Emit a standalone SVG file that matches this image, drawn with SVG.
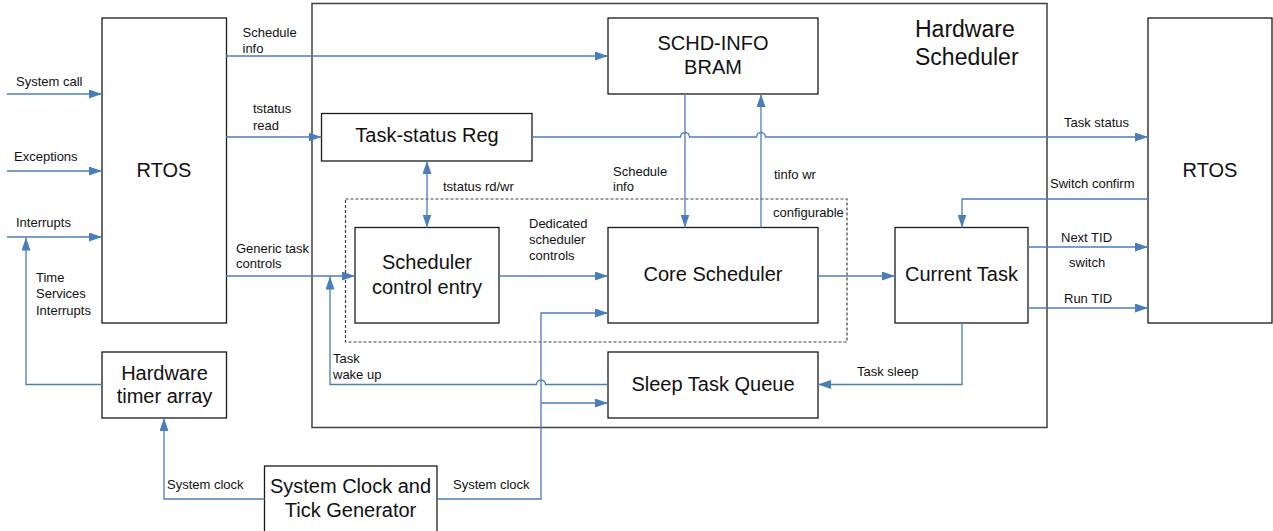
<svg xmlns="http://www.w3.org/2000/svg" width="1273" height="531" viewBox="0 0 1273 531">
  <style>
    .box { fill: #ffffff; stroke: #1a1a1a; stroke-width: 1.3; }
    .frame { fill: #ffffff; stroke: #404040; stroke-width: 1.5; }
    .dash { fill: none; stroke: #404040; stroke-width: 1.2; stroke-dasharray: 3 2; }
    .wire { fill: none; stroke: #4a7ebb; stroke-width: 1.3; }
    .arr { marker-end: url(#head); }
    .both { marker-start: url(#head); marker-end: url(#head); }
    text { font-family: "Liberation Sans", Arial, sans-serif; fill: #111111; }
    .big { font-size: 20px; text-anchor: middle; }
    .title { font-size: 23px; }
    .lbl { font-size: 13px; }
  </style>
  <defs>
    <marker id="head" markerUnits="userSpaceOnUse" markerWidth="13" markerHeight="9" refX="13" refY="4.5" orient="auto-start-reverse">
      <path d="M0,0 L13,4.5 L0,9 Z" fill="#4a7ebb"/>
    </marker>
  </defs>

  <!-- hardware scheduler enclosure -->
  <g id="hardware-scheduler">
    <rect class="frame" x="312" y="3.5" width="735" height="424"/>
    <text class="title" x="915" y="36.5">Hardware</text>
    <text class="title" x="915" y="65">Scheduler</text>
  </g>

  <!-- configurable region -->
  <g id="configurable">
    <rect class="dash" x="345.5" y="199" width="501.5" height="143"/>
    <text class="lbl" x="773" y="217">configurable</text>
  </g>

  <g id="rtos-left">
    <rect class="box" x="102" y="18" width="124.5" height="305"/>
    <text class="big" x="164" y="176.7">RTOS</text>
  </g>

  <g id="rtos-right">
    <rect class="box" x="1148" y="18" width="124" height="305"/>
    <text class="big" x="1210" y="177">RTOS</text>
  </g>

  <g id="schd-info-bram">
    <rect class="box" x="608" y="18" width="210" height="76"/>
    <text class="big" x="713" y="50">SCHD-INFO</text>
    <text class="big" x="713" y="74">BRAM</text>
  </g>

  <g id="task-status-reg">
    <rect class="box" x="321.5" y="113.5" width="210.5" height="47.5"/>
    <text class="big" x="427" y="142">Task-status Reg</text>
  </g>

  <g id="scheduler-control-entry">
    <rect class="box" x="355" y="227.5" width="144" height="95.5"/>
    <text class="big" x="427" y="269">Scheduler</text>
    <text class="big" x="427" y="294">control entry</text>
  </g>

  <g id="core-scheduler">
    <rect class="box" x="608" y="227.5" width="210" height="95.5"/>
    <text class="big" x="713" y="280.7">Core Scheduler</text>
  </g>

  <g id="current-task">
    <rect class="box" x="895" y="227.5" width="133" height="95.5"/>
    <text class="big" x="961.5" y="280.7">Current Task</text>
  </g>

  <g id="sleep-task-queue">
    <rect class="box" x="608" y="352" width="210" height="66"/>
    <text class="big" x="713" y="390.7">Sleep Task Queue</text>
  </g>

  <g id="hardware-timer-array">
    <rect class="box" x="102" y="352" width="124.5" height="66"/>
    <text class="big" x="164.5" y="379.5">Hardware</text>
    <text class="big" x="164.5" y="403">timer array</text>
  </g>

  <g id="system-clock-generator">
    <rect class="box" x="264.5" y="466" width="172.5" height="70"/>
    <text class="big" x="350.5" y="493">System Clock and</text>
    <text class="big" x="350.5" y="517">Tick Generator</text>
  </g>

  <!-- connectors and their labels -->
  <g id="connectors">
    <path class="wire arr" d="M7,94 H102"/>
    <path class="wire arr" d="M7,171 H102"/>
    <path class="wire arr" d="M7,237 H102"/>
    <path class="wire arr" d="M102,384.5 H26 V237.5"/>
    <path class="wire arr" d="M226,56 H608"/>
    <path class="wire arr" d="M226,137 H321.5"/>
    <path class="wire arr" d="M226,276 H355"/>
    <path class="wire arr" d="M608,384.5 H545.5 A4.5,4.5 0 0 0 536.5,384.5 H330 V276.5"/>
    <path class="wire both" d="M427,161 V227.5"/>
    <path class="wire arr" d="M499,276 H608"/>
    <path class="wire arr" d="M437,499 H541 V313 H608"/>
    <path class="wire arr" d="M541,403 H608"/>
    <path class="wire arr" d="M264.5,499 H164 V418"/>
    <path class="wire arr" d="M685,94 V227.5"/>
    <path class="wire arr" d="M761,227.5 V94"/>
    <path class="wire arr" d="M532,137 H680.5 A4.5,4.5 0 0 1 689.5,137 H756.5 A4.5,4.5 0 0 1 765.5,137 H1148"/>
    <path class="wire arr" d="M1148,199 H962 V227.5"/>
    <path class="wire arr" d="M818,276 H895"/>
    <path class="wire arr" d="M1028,247 H1148"/>
    <path class="wire arr" d="M1028,308 H1148"/>
    <path class="wire arr" d="M962,323 V384.5 H818"/>

    <text class="lbl" x="16" y="85.5">System call</text>
    <text class="lbl" x="14" y="161">Exceptions</text>
    <text class="lbl" x="16" y="226.5">Interrupts</text>
    <text class="lbl" x="36" y="282">Time</text>
    <text class="lbl" x="36" y="298">Services</text>
    <text class="lbl" x="36" y="315">Interrupts</text>
    <text class="lbl" x="242.5" y="37.3">Schedule</text>
    <text class="lbl" x="242.5" y="53">info</text>
    <text class="lbl" x="253" y="113">tstatus</text>
    <text class="lbl" x="253" y="130">read</text>
    <text class="lbl" x="236" y="252.7">Generic task</text>
    <text class="lbl" x="236" y="268">controls</text>
    <text class="lbl" x="443" y="190.5">tstatus rd/wr</text>
    <text class="lbl" x="529" y="228">Dedicated</text>
    <text class="lbl" x="529" y="244">scheduler</text>
    <text class="lbl" x="529" y="259.5">controls</text>
    <text class="lbl" x="333" y="363">Task</text>
    <text class="lbl" x="333" y="379">wake up</text>
    <text class="lbl" x="613" y="175.5">Schedule</text>
    <text class="lbl" x="613" y="191">info</text>
    <text class="lbl" x="774" y="179">tinfo wr</text>
    <text class="lbl" x="1064" y="127">Task status</text>
    <text class="lbl" x="1050" y="188">Switch confirm</text>
    <text class="lbl" x="1061" y="241.5">Next TID</text>
    <text class="lbl" x="1069" y="266.5">switch</text>
    <text class="lbl" x="1064" y="302.5">Run TID</text>
    <text class="lbl" x="857" y="376">Task sleep</text>
    <text class="lbl" x="167" y="489">System clock</text>
    <text class="lbl" x="453" y="489">System clock</text>
  </g>
</svg>
